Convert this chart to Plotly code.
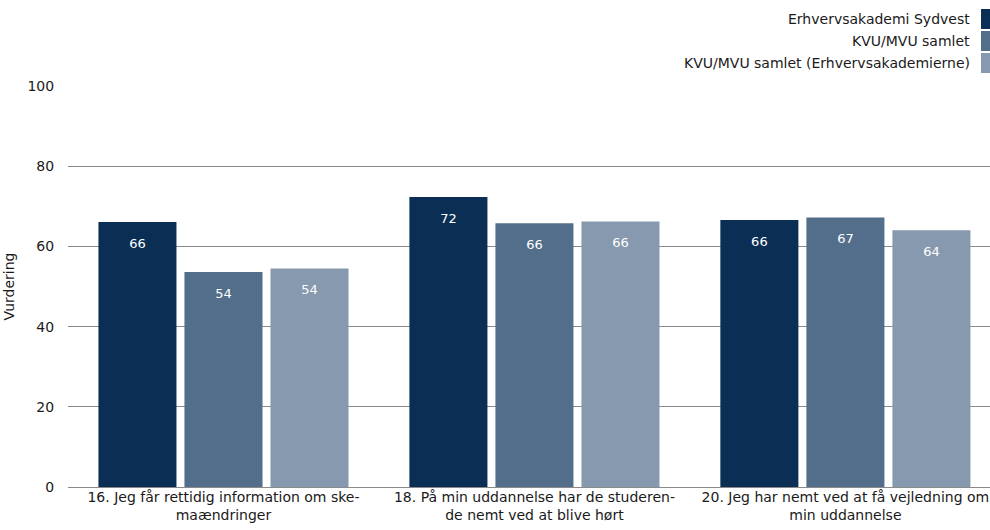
import plotly.graph_objects as go

categories = [
    "16. Jeg får rettidig information om ske-<br>maændringer",
    "18. På min uddannelse har de studeren-<br>de nemt ved at blive hørt",
    "20. Jeg har nemt ved at få vejledning om<br>min uddannelse",
]
series_names = [
    "Erhvervsakademi Sydvest",
    "KVU/MVU samlet",
    "KVU/MVU samlet (Erhvervsakademierne)",
]
values_sydvest = [66.1, 72.3, 66.6]
values_samlet = [53.6, 65.8, 67.2]
values_eak = [54.5, 66.2, 64.0]
labels_sydvest = ["66", "72", "66"]
labels_samlet = ["54", "66", "67"]
labels_eak = ["54", "66", "64"]
colors = ["#0b2e55", "#526e8a", "#8799ae"]

FONT = "DejaVu Sans"
PAD = "<span style='font-size:7px'>&nbsp;</span><br>"

fig = go.Figure()
for name, vals, labs, col in zip(
    series_names,
    [values_sydvest, values_samlet, values_eak],
    [labels_sydvest, labels_samlet, labels_eak],
    colors,
):
    fig.add_trace(go.Bar(
        x=list(range(len(categories))), y=vals, name=name,
        marker=dict(color=col, line=dict(width=0)),
        text=[PAD + l for l in labs],
        textposition="inside", insidetextanchor="end",
        textfont=dict(color="white", size=13, family=FONT),
        textangle=0, hoverinfo="skip",
    ))

# custom legend (text right, swatch at right)
for i, (name, col) in enumerate(zip(series_names, colors)):
    yc = 19 + i * 22
    fig.add_annotation(
        xref="paper", yref="paper", x=(972 - 68) / 922, y=1 + (86 - yc) / 401,
        text=name, showarrow=False, xanchor="right", yanchor="middle",
        font=dict(family=FONT, size=14, color="#1a1a1a"),
    )
    fig.add_shape(
        type="rect", xref="paper", yref="paper",
        x0=(981 - 68) / 922, x1=(992 - 68) / 922,
        y0=1 + (86 - (yc + 10)) / 401, y1=1 + (86 - (yc - 10)) / 401,
        fillcolor=col, line=dict(width=0), layer="above",
    )

fig.update_layout(
    width=990, height=530,
    margin=dict(l=68, r=0, t=86, b=43),
    paper_bgcolor="white", plot_bgcolor="white",
    barmode="group", bargap=0.17, bargroupgap=0.093,
    showlegend=False,
    font=dict(family=FONT, size=13, color="#1a1a1a"),
    xaxis=dict(
        range=[-0.5, 2.465], tickmode="array",
        tickvals=list(range(len(categories))), ticktext=categories,
        showgrid=False, zeroline=False, showline=False, ticks="",
        tickfont=dict(family=FONT, size=14, color="#1a1a1a"),
    ),
    yaxis=dict(
        range=[0, 100], tickvals=[0, 20, 40, 60, 80, 100],
        showgrid=True, gridcolor="#8a8a8a", gridwidth=1,
        zeroline=True, zerolinecolor="#8a8a8a", zerolinewidth=1,
        showline=False, ticks="outside", ticklen=10, tickcolor="rgba(0,0,0,0)",
        title=dict(text="Vurdering", font=dict(family=FONT, size=14), standoff=9),
        tickfont=dict(family=FONT, size=14, color="#1a1a1a"),
    ),
)

fig.write_html(
    "out.html",
    config={"displayModeBar": False},
    post_script="document.body.style.margin='0';document.body.style.overflow='hidden';",
)
